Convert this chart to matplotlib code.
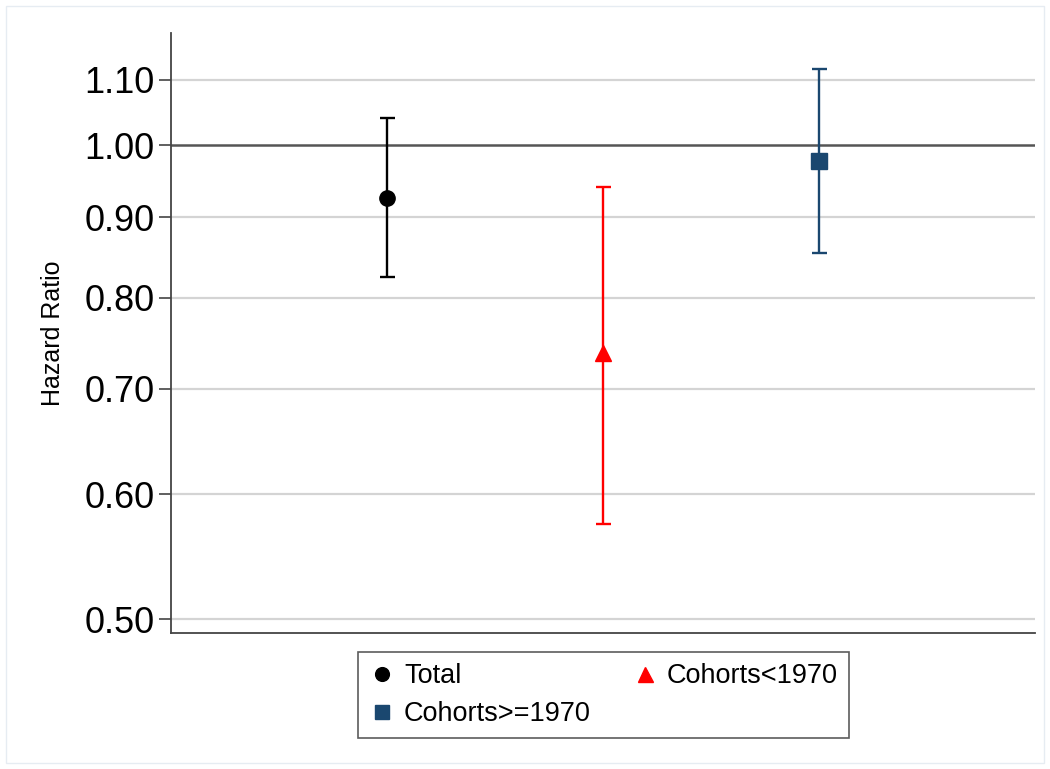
import numpy as np
import matplotlib.pyplot as plt
from matplotlib.patches import Rectangle

plt.rcParams['font.family'] = ['Liberation Sans', 'DejaVu Sans']

groups = ['Total', 'Cohorts<1970', 'Cohorts>=1970']
hr = [0.925, 0.738, 0.977]
ci_low = [0.824, 0.575, 0.854]
ci_high = [1.040, 0.940, 1.118]
yticks = [0.50, 0.60, 0.70, 0.80, 0.90, 1.00, 1.10]

colors = ['black', '#ff0000', '#1a476f']
markers = ['o', '^', 's']
msizes = [11, 12, 11]

fig = plt.figure(figsize=(10.5, 7.69), dpi=100)
ax = fig.add_axes([0.163, 0.177, 0.823, 0.780])

ax.set_yscale('log')
ax.set_ylim(0.49, 1.178)
ax.set_xlim(0, 4)

# grid lines at the tick values, darker reference line at HR = 1
for t in yticks:
    if t == 1.0:
        ax.axhline(t, color='#555555', lw=1.8, zorder=1)
    else:
        ax.axhline(t, color='#d4d4d4', lw=1.6, zorder=1)

handles = []
for i, (g, h, lo, hi) in enumerate(zip(groups, hr, ci_low, ci_high)):
    x = i + 1
    ax.errorbar([x], [h], yerr=[[h - lo], [hi - h]], fmt='none',
                ecolor=colors[i], elinewidth=1.7, capsize=5.4, capthick=1.7, zorder=3)
    pt, = ax.plot([x], [h], marker=markers[i], color=colors[i], ms=msizes[i],
                  ls='none', zorder=4, label=g)
    handles.append(pt)

ax.set_yticks(yticks)
ax.set_yticklabels([f'{t:.2f}' for t in yticks], fontsize=26)
ax.yaxis.set_minor_locator(plt.NullLocator())
ax.tick_params(axis='y', length=9, width=1.2, color='#444444', pad=3)
ax.set_xticks([])
ax.set_ylabel('Hazard Ratio', fontsize=18, labelpad=14)

for s in ['top', 'right']:
    ax.spines[s].set_visible(False)
for s in ['left', 'bottom']:
    ax.spines[s].set_color('#444444')
    ax.spines[s].set_linewidth(1.3)

order = [handles[0], handles[2], handles[1]]
leg = ax.legend(handles=order, labels=[h.get_label() for h in order], ncol=2,
                loc='upper center', bbox_to_anchor=(0.5, -0.01), fontsize=19.5,
                frameon=True, fancybox=False, edgecolor='#333333',
                handletextpad=0.3, columnspacing=1.5, handlelength=1.0,
                borderpad=0.4, labelspacing=0.45, markerscale=0.9)
leg.get_frame().set_linewidth(1.2)

# thin outer frame around the whole figure
fig.patches.append(Rectangle((0.006, 0.008), 0.988, 0.984, transform=fig.transFigure,
                             fill=False, edgecolor='#e6ecf2', lw=1.0))

fig.savefig('out.png', dpi=100)
